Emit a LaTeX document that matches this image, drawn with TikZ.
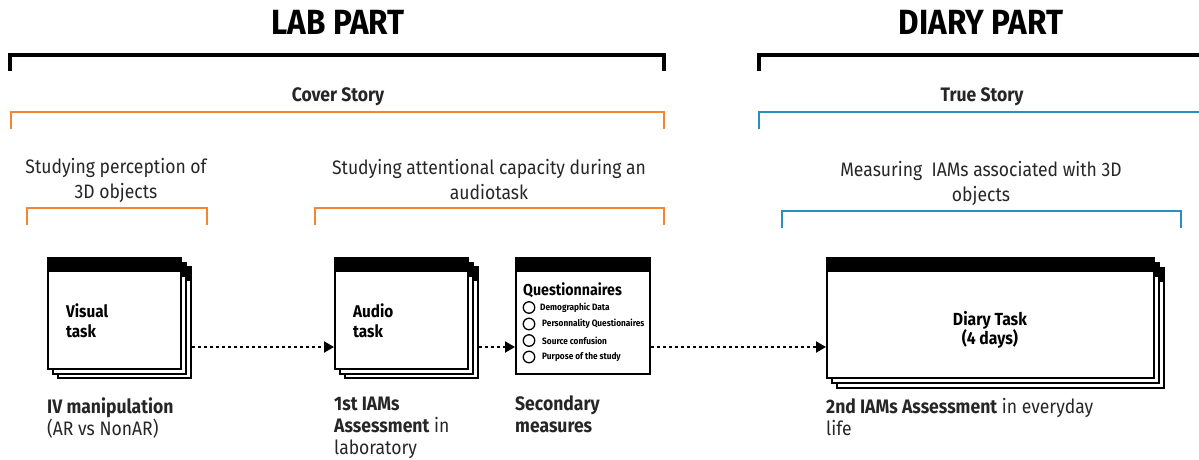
\documentclass[tikz,border=0pt]{standalone}
\usepackage{fontspec}
\setmainfont{Fira Sans}[FakeStretch=0.9]
\usetikzlibrary{arrows.meta}

\definecolor{coverorange}{HTML}{F5862E}
\definecolor{trueblue}{HTML}{2A8FBE}
\definecolor{ink}{HTML}{262626}

\tikzset{
  parttitle/.style={font=\fontsize{35}{36}\selectfont\bfseries, text=black},
  storytitle/.style={font=\fontsize{19.5}{20}\selectfont\bfseries, text=ink},
  aim/.style={font=\fontsize{19.5}{25}\selectfont, text=ink, align=center},
  partbracket/.style={line width=4pt, black, line join=miter},
  coverbracket/.style={line width=2pt, coverorange, line join=miter},
  truebracket/.style={line width=2pt, trueblue, line join=miter},
  winframe/.style={draw=black, fill=white, line width=2pt, inner sep=0pt},
  boxlabel/.style={font=\fontsize{17}{20}\selectfont\bfseries, align=left, anchor=north west, inner sep=0pt, text=black},
  centerlabel/.style={font=\fontsize{17.5}{19.5}\selectfont\bfseries, align=center, inner sep=0pt, text=black},
  caption/.style={font=\fontsize{19.5}{22}\selectfont, align=left, anchor=north west, inner sep=0pt, text=ink},
  qtitle/.style={font=\fontsize{15.8}{16}\selectfont\bfseries, anchor=north west, inner sep=0pt, text=black},
  qitem/.style={font=\fontsize{9.2}{10}\selectfont\bfseries, anchor=west, inner sep=0pt, text=black},
  qcircle/.style={circle, draw=black, line width=1.3pt, minimum size=11.5pt, inner sep=0pt},
  flowarrow/.style={line width=2pt, dash pattern=on 3pt off 3pt, -{Triangle[length=10pt,width=11pt]}},
}

% window-like card: white frame with a black header band
\newcommand\wincard[5]{% name, centre x, centre y, width, height
  \node[winframe, minimum width=#4pt, minimum height=#5pt] (#1) at (#2,#3) {};
  \fill[black] (#1.north west) rectangle ([yshift=-15pt]#1.north east);
}

\begin{document}
\begin{tikzpicture}[x=1pt, y=-1pt]
\useasboundingbox (0,0) rectangle (1199,459);

% ---- part titles and brackets
\node[parttitle] (lab) at (338,22) {LAB PART};
\node[parttitle] (diary) at (981,22) {DIARY PART};
\draw[partbracket] (10,71) -- (10,55) -- (664,55) -- (664,71);
\draw[partbracket] (759,71) -- (759,55) -- (1210,55);

% ---- cover / true story
\node[storytitle] (cover) at (338,97) {Cover Story};
\node[storytitle] (truestory) at (982,97) {True Story};
\draw[coverbracket] (11,129) -- (11,112) -- (664,112) -- (664,129);
\draw[truebracket] (759,129) -- (759,112) -- (1210,112);

% ---- aims of each phase
\node[aim] (aimvisual) at (116,180) {Studying perception of\\3D objects};
\node[aim] (aimaudio) at (489,180) {Studying attentional capacity during an\\audiotask};
\node[aim] (aimdiary) at (981,183) {Measuring\ \ IAMs associated with 3D\\objects};
\draw[coverbracket] (27,225) -- (27,208) -- (207,208) -- (207,225);
\draw[coverbracket] (315,225) -- (315,208) -- (664,208) -- (664,225);
\draw[truebracket] (782,228) -- (782,211) -- (1181,211) -- (1181,228);

% ---- task cards (stacked)
\wincard{visual3}{124.5}{322.5}{133}{111}
\wincard{visual2}{119.5}{318}{133}{111}
\wincard{visual}{114.5}{313.5}{133}{111}
\node[boxlabel] (visualtext) at (66,304) {Visual\\task};

\wincard{audio3}{411.5}{322.5}{133}{111}
\wincard{audio2}{406.5}{318}{133}{111}
\wincard{audio}{401.5}{313.5}{133}{111}
\node[boxlabel] (audiotext) at (353,304) {Audio\\task};

\wincard{quest}{583}{316}{134}{116}
\node[qtitle] (qhead) at (523,282) {Questionnaires};
\node[qcircle] (qc1) at (529,307.5) {};
\node[qcircle] (qc2) at (529,324) {};
\node[qcircle] (qc3) at (529,340.5) {};
\node[qcircle] (qc4) at (529,357) {};
\node[qitem] (qi1) at (540,307.5) {Demographic Data};
\node[qitem] (qi2) at (542,324) {Personnality Questionaires};
\node[qitem] (qi3) at (542,340.5) {Source confusion};
\node[qitem] (qi4) at (542,357) {Purpose of the study};

\wincard{diarycard3}{1000.5}{328}{327}{120}
\wincard{diarycard2}{995.5}{323}{327}{120}
\wincard{diarycard}{990.5}{318}{327}{120}
\node[centerlabel] (diarytext) at (990,330) {Diary Task\\(4 days)};

% ---- flow
\coordinate (flow) at (0,347);
\draw[flowarrow] (visual3.east |- flow) -- (audio.west |- flow);
\draw[flowarrow] (audio3.east |- flow) -- (quest.west |- flow);
\draw[flowarrow] (quest.east |- flow) -- (diarycard.west |- flow);

% ---- captions
\node[caption] (capvisual) at (47,397) {\textbf{IV manipulation}\\(AR vs NonAR)};
\node[caption] (capaudio) at (334,397) {\textbf{1st IAMs}\\\textbf{Assessment} in\\laboratory};
\node[caption] (capquest) at (515,395) {\textbf{Secondary}\\\textbf{measures}};
\node[caption] (capdiary) at (826,398) {\textbf{2nd IAMs Assessment} in everyday\\life};
\end{tikzpicture}
\end{document}
